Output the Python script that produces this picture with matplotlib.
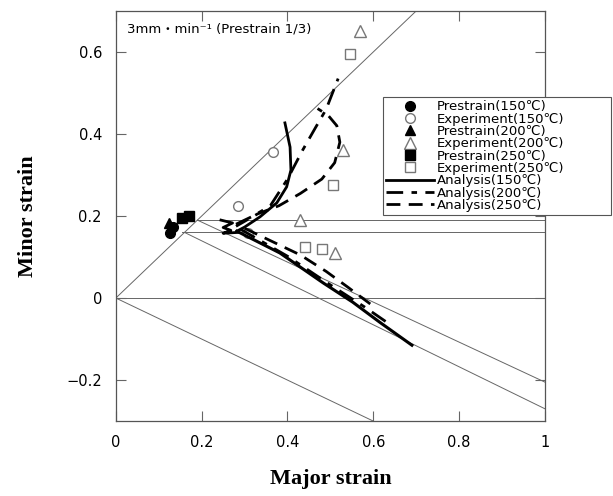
import numpy as np
import matplotlib.pyplot as plt

# prestrain points
pre150_x = [0.126, 0.134]
pre150_y = [0.158, 0.172]
pre200_x = [0.124]
pre200_y = [0.184]
pre250_x = [0.155, 0.170]
pre250_y = [0.195, 0.201]

# experiment points
exp150_x = [0.367, 0.285, 0.308]
exp150_y = [0.355, 0.224, 0.159]
exp200_x = [0.57, 0.53, 0.43, 0.51]
exp200_y = [0.65, 0.36, 0.19, 0.11]
exp250_x = [0.545, 0.505, 0.44, 0.48]
exp250_y = [0.595, 0.275, 0.125, 0.12]

# analysis 150 (solid)
a150_up_x = [0.282, 0.300, 0.336, 0.375, 0.398, 0.408, 0.406, 0.394]
a150_up_y = [0.163, 0.173, 0.198, 0.232, 0.271, 0.312, 0.368, 0.427]
a150_zz_x = [0.245, 0.272, 0.250, 0.268, 0.250, 0.285]
a150_zz_y = [0.190, 0.183, 0.172, 0.165, 0.158, 0.160]
a150_lo_x = [0.282, 0.382, 0.483, 0.552, 0.615, 0.690]
a150_lo_y = [0.163, 0.110, 0.037, -0.010, -0.059, -0.115]

# analysis 200 (dash-dot)
a200_up_x = [0.280, 0.320, 0.360, 0.400, 0.435, 0.465, 0.490, 0.518]
a200_up_y = [0.180, 0.200, 0.225, 0.290, 0.360, 0.415, 0.460, 0.535]
a200_lo_x = [0.290, 0.400, 0.500, 0.580, 0.630]
a200_lo_y = [0.168, 0.102, 0.032, -0.022, -0.058]

# analysis 250 (dashed)
a250_up_x = [0.280, 0.330, 0.380, 0.430, 0.480, 0.510, 0.522, 0.515, 0.495, 0.470]
a250_up_y = [0.175, 0.205, 0.225, 0.255, 0.290, 0.330, 0.380, 0.420, 0.445, 0.462]
a250_lo_x = [0.300, 0.360, 0.430, 0.490, 0.540, 0.600]
a250_lo_y = [0.170, 0.140, 0.105, 0.065, 0.027, -0.020]

# guide lines (x pairs, y pairs)
guides = [
    ([0, 0.7], [0, 0.7]),
    ([0, 1], [0, 0]),
    ([0, 0.6], [0, -0.3]),
    ([0.19, 1], [0.19, 0.19]),
    ([0.155, 1], [0.16, 0.16]),
    ([0.19, 1], [0.19, -0.205]),
    ([0.16, 1], [0.16, -0.27]),
]

fig = plt.figure(figsize=(6.13, 4.96), dpi=100)
ax = fig.add_axes([0.189, 0.151, 0.700, 0.827])

for gx, gy in guides:
    ax.plot(gx, gy, color='#666666', lw=0.7, zorder=1)

ax.plot(pre150_x, pre150_y, 'o', color='black', ms=7, label='Prestrain(150℃)')
ax.plot(exp150_x, exp150_y, 'o', mfc='white', mec='#777777', ms=7, label='Experiment(150℃)')
ax.plot(pre200_x, pre200_y, '^', color='black', ms=7, label='Prestrain(200℃)')
ax.plot(exp200_x, exp200_y, '^', mfc='white', mec='#777777', ms=8, label='Experiment(200℃)')
ax.plot(pre250_x, pre250_y, 's', color='black', ms=7, label='Prestrain(250℃)')
ax.plot(exp250_x, exp250_y, 's', mfc='white', mec='#777777', ms=7, label='Experiment(250℃)')

ax.plot(a150_up_x, a150_up_y, color='black', lw=2, label='Analysis(150℃)')
ax.plot(a150_zz_x, a150_zz_y, color='black', lw=2)
ax.plot(a150_lo_x, a150_lo_y, color='black', lw=2.2)

dd = (0, (6, 3, 2, 3))
ax.plot(a200_up_x, a200_up_y, color='black', lw=2, ls=dd, label='Analysis(200℃)')
ax.plot(a200_lo_x, a200_lo_y, color='black', lw=2, ls=dd)

ds = (0, (5, 3))
ax.plot(a250_up_x, a250_up_y, color='black', lw=2, ls=ds, label='Analysis(250℃)')
ax.plot(a250_lo_x, a250_lo_y, color='black', lw=2, ls=ds)

ax.set_xlim(0, 1)
ax.set_ylim(-0.3, 0.7)
ax.set_xticks([0, 0.2, 0.4, 0.6, 0.8, 1])
ax.set_xticklabels(['0', '0.2', '0.4', '0.6', '0.8', '1'])
ax.set_yticks([-0.2, 0, 0.2, 0.4, 0.6])
ax.set_yticklabels(['\u22120.2', '0', '0.2', '0.4', '0.6'])
ax.tick_params(direction='in', length=7, width=0.8, color='#666666',
               top=True, right=True, labelsize=10.5, pad=10)
for s in ax.spines.values():
    s.set_color('#555555')
    s.set_linewidth(0.9)

ax.set_xlabel('Major strain', family='Liberation Serif', fontweight='bold', fontsize=16, labelpad=14)
ax.set_ylabel('Minor strain', family='Liberation Serif', fontweight='bold', fontsize=16, labelpad=20)

ax.text(0.025, 0.955, '3mm\u30FBmin\u207B\u00B9 (Prestrain 1/3)', transform=ax.transAxes,
        fontsize=9.5, family=['DejaVu Sans', 'Noto Sans CJK JP'], va='center')

leg = fig.legend(loc='upper left', mode='expand',
                 bbox_to_anchor=(383/613, 1 - 97/496, (611 - 383)/613, 0.0),
                 frameon=True, fancybox=False, edgecolor='#555555', framealpha=1,
                 handlelength=3.6, handletextpad=0.2,
                 labelspacing=-0.05, borderpad=0.25, borderaxespad=0,
                 prop={'family': ['DejaVu Sans', 'Noto Sans CJK JP'], 'size': 9.5})
leg.get_frame().set_linewidth(0.8)

fig.savefig('out.png', dpi=100)
